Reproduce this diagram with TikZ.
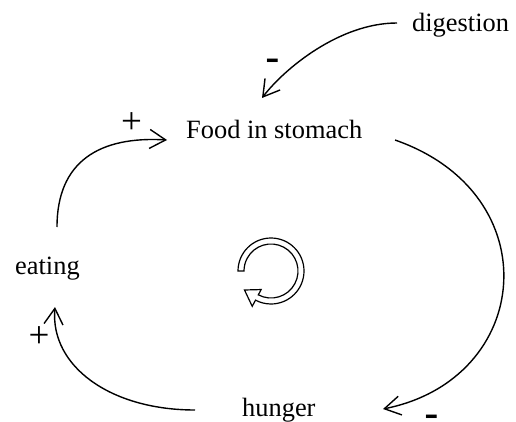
\documentclass[tikz,border=0pt]{standalone}
\usepackage{fontspec}
\setmainfont{Liberation Serif}
\newfontfamily\signfont{Liberation Sans}
\usetikzlibrary{arrows.meta}

\tikzset{
  label text/.style={inner sep=0pt, anchor=base west, font=\fontsize{26.4}{30}\selectfont},
  plus sign/.style={inner sep=0pt, anchor=center, font=\fontsize{37}{40}\selectfont},
  minus sign/.style={inner sep=0pt, anchor=base, font=\signfont\fontsize{44}{48}\selectfont},
  link/.style={line width=1.4pt, -{Straight Barb[length=16pt,width=19pt,line width=1.4pt]}},
  loop mark/.style={line width=1.2pt, fill=white, line join=miter}
}

\begin{document}
\begin{tikzpicture}[x=1pt,y=1pt]
  \useasboundingbox (0,0) rectangle (516,421);

  % variables
  \node[label text] (dig)  at (412,389) {digestion};
  \node[label text] (food) at (186,282) {Food in stomach};
  \node[label text] (eat)  at (15,147)  {eating};
  \node[label text] (hun)  at (242,5)   {hunger};

  % causal links
  \draw[link] ([shift={(-15,9)}]dig.base west)
      .. controls (340,398) and (285,353) .. ([shift={(76,41)}]food.base west);
  \draw[link] ([shift={(209,-1)}]food.base west)
      .. controls (550,227) and (533,42) .. ([shift={(141,7)}]hun.base west);
  \draw[link] ([shift={(-47,6)}]hun.base west)
      .. controls (110,11) and (50,55) .. ([shift={(40,-33)}]eat.base west);
  \draw[link] ([shift={(42,47)}]eat.base west)
      .. controls (57,260) and (100,285) .. ([shift={(-19,-1)}]food.base west);

  % polarities
  \node[minus sign] (m1) at (272.5,348.8) {-};
  \node[plus sign]  (p1) at (131.5,297.5) {+};
  \node[plus sign]  (p2) at (39,83.5)     {+};
  \node[minus sign] (m2) at (432,-7.5)    {-};

  % reinforcing-loop marker
  \begin{scope}[shift={(271,150)}]
    \draw[loop mark] (180:33) arc[start angle=180, end angle=-118, radius=33]
      -- (-118:40) -- (-26.5,-19) -- (-118:21) -- (-118:27)
      arc[start angle=-118, end angle=180, radius=27] -- cycle;
  \end{scope}
\end{tikzpicture}
\end{document}
